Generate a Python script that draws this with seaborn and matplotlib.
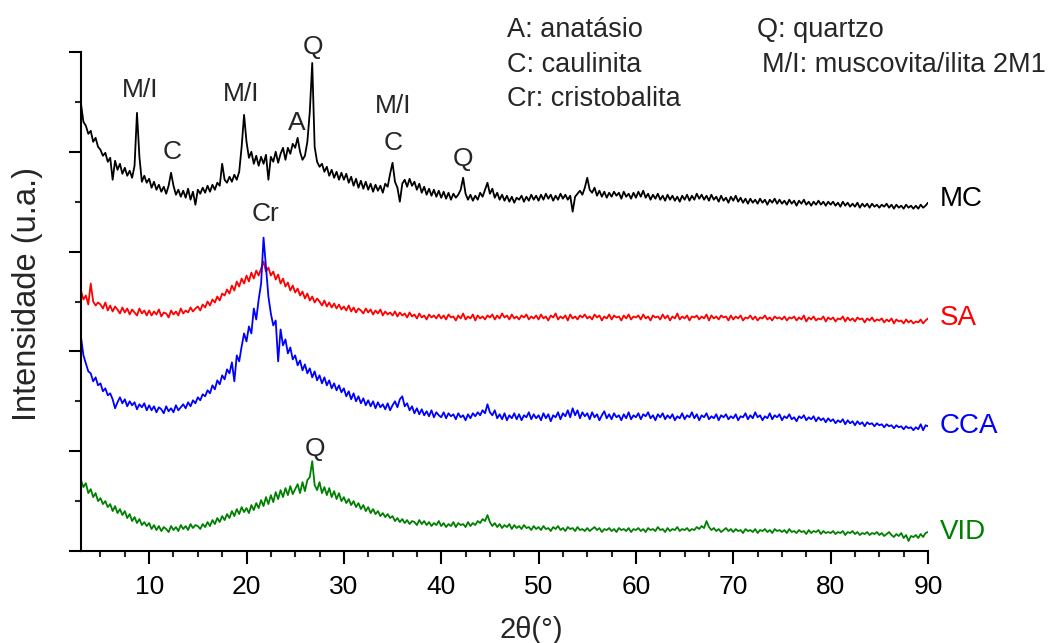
import numpy as np
import pandas as pd
import matplotlib
matplotlib.use("Agg")
import matplotlib.pyplot as plt
import seaborn as sns
from matplotlib.ticker import MultipleLocator, NullFormatter

# ---- data: intensities (u.a.) on the 2theta scan 3-90 deg, 0.25 deg step ----
mc = [448, 430, 426, 418, 421, 410, 414, 405,
      402, 396, 399, 390, 394, 372, 391, 382, 388, 378, 384, 376, 381, 374, 386, 439, 395, 370, 376, 369,
      373, 364, 370, 362, 367, 360, 365, 358, 366, 379, 366, 357, 362, 355, 361, 354, 363, 352, 360, 347,
      362, 358, 364, 359, 366, 360, 367, 362, 369, 366, 388, 372, 369, 375, 370, 377, 372, 380, 405, 437,
      410, 394, 400, 388, 396, 386, 395, 388, 397, 372, 395, 390, 400, 389, 398, 404, 392, 404, 398, 408,
      404, 414, 400, 392, 396, 410, 440, 489, 405, 390, 385, 388, 380, 385, 376, 382, 374, 380, 372, 379,
      372, 378, 369, 375, 366, 373, 364, 371, 363, 370, 362, 368, 360, 367, 361, 366, 359, 368, 365, 378,
      389, 370, 364, 350, 368, 372, 365, 373, 366, 370, 362, 368, 359, 365, 357, 363, 356, 362, 355, 361,
      354, 360, 353, 359, 352, 358, 354, 357, 362, 374, 358, 352, 357, 351, 356, 352, 359, 355, 362, 369,
      358, 363, 354, 359, 352, 357, 351, 356, 350, 355, 349, 354, 352, 356, 350, 355, 351, 357, 352, 356,
      351, 357, 352, 358, 353, 357, 351, 356, 352, 358, 353, 357, 352, 356, 340, 355, 358, 361, 357, 364,
      374, 362, 359, 364, 356, 361, 355, 360, 354, 359, 355, 360, 356, 359, 353, 360, 355, 358, 353, 359,
      354, 360, 355, 361, 354, 358, 352, 357, 353, 358, 352, 356, 351, 357, 352, 356, 351, 355, 350, 356,
      352, 357, 351, 356, 352, 358, 353, 357, 352, 356, 351, 357, 352, 355, 350, 356, 351, 354, 349, 355,
      351, 356, 350, 354, 349, 353, 348, 353, 349, 352, 348, 353, 349, 352, 347, 352, 349, 353, 348, 352,
      348, 351, 347, 352, 348, 351, 346, 351, 348, 352, 347, 350, 346, 350, 347, 351, 347, 350, 346, 350,
      347, 350, 346, 349, 345, 350, 346, 349, 345, 348, 345, 349, 344, 348, 345, 348, 344, 348, 345, 347,
      344, 347, 345, 348, 344, 347, 343, 347, 344, 346, 343, 347, 344, 346, 343, 346, 343, 347, 344, 346,
      349]

sa = [261, 252, 256, 247, 268, 250, 246, 249,
      247, 243, 249, 241, 246, 240, 245, 242, 238, 244, 239, 243, 237, 242, 239, 236, 243, 238, 241, 236,
      241, 236, 240, 237, 242, 235, 239, 238, 234, 241, 237, 240, 236, 243, 238, 241, 239, 244, 240, 243,
      245, 241, 247, 244, 250, 246, 252, 249, 255, 251, 258, 256, 262, 258, 266, 261, 270, 265, 273, 268,
      276, 270, 279, 273, 281, 276, 283, 290, 280, 284, 276, 280, 272, 277, 268, 273, 265, 269, 261, 266,
      259, 263, 256, 260, 253, 258, 251, 255, 249, 253, 250, 246, 251, 245, 249, 244, 248, 243, 247, 242,
      245, 241, 246, 240, 244, 239, 243, 241, 238, 243, 239, 242, 237, 241, 238, 242, 236, 240, 237, 239,
      236, 240, 235, 239, 236, 238, 234, 239, 235, 237, 233, 238, 234, 236, 232, 237, 234, 236, 233, 237,
      233, 236, 232, 237, 234, 235, 231, 236, 233, 238, 232, 235, 233, 237, 231, 236, 233, 235, 232, 236,
      234, 237, 232, 236, 233, 238, 234, 236, 232, 237, 233, 235, 232, 236, 234, 237, 232, 235, 233, 236,
      232, 237, 233, 235, 231, 236, 234, 238, 232, 235, 233, 236, 231, 237, 233, 235, 232, 236, 234, 237,
      233, 235, 232, 237, 234, 236, 231, 235, 233, 237, 232, 236, 234, 235, 231, 236, 233, 237, 232, 235,
      234, 236, 232, 237, 233, 235, 231, 236, 234, 235, 232, 237, 233, 236, 231, 235, 233, 238, 232, 235,
      233, 236, 231, 235, 234, 236, 232, 235, 233, 237, 231, 236, 233, 235, 232, 236, 234, 235, 231, 236,
      232, 235, 233, 236, 231, 234, 233, 236, 232, 235, 231, 234, 233, 236, 232, 234, 231, 235, 233, 234,
      232, 235, 231, 234, 233, 235, 231, 234, 232, 236, 230, 234, 232, 235, 231, 233, 232, 235, 230, 234,
      232, 234, 230, 233, 232, 235, 230, 234, 231, 233, 230, 234, 232, 233, 229, 233, 231, 234, 230, 232,
      231, 233, 229, 232, 230, 233, 228, 232, 230, 231, 228, 232, 229, 231, 228, 230, 229, 232, 228, 231,
      233]

cca = [214, 196, 188, 180, 178, 170, 174, 166,
       168, 160, 163, 156, 158, 152, 143, 149, 154, 148, 152, 145, 150, 146, 149, 142, 147, 144, 148, 141,
       146, 141, 145, 139, 144, 142, 138, 145, 140, 143, 139, 146, 141, 144, 147, 143, 149, 145, 151, 148,
       154, 151, 157, 155, 161, 158, 166, 162, 171, 167, 176, 172, 182, 178, 189, 170, 196, 190, 205, 218,
       210, 225, 218, 243, 232, 252, 268, 314, 285, 255, 238, 226, 231, 190, 222, 206, 212, 198, 204, 192,
       196, 186, 191, 181, 187, 178, 183, 174, 180, 171, 176, 168, 174, 166, 171, 163, 168, 161, 166, 159,
       163, 155, 160, 152, 158, 150, 155, 148, 153, 146, 151, 145, 150, 143, 149, 144, 147, 142, 148, 141,
       146, 150, 144, 152, 155, 145, 148, 141, 145, 138, 143, 137, 142, 136, 140, 135, 141, 134, 139, 136,
       134, 139, 133, 138, 135, 137, 132, 138, 134, 136, 131, 137, 133, 138, 135, 139, 136, 141, 138, 147,
       139, 136, 141, 133, 137, 132, 138, 131, 136, 133, 138, 132, 137, 131, 136, 134, 139, 132, 137, 133,
       136, 131, 138, 133, 137, 130, 136, 134, 139, 132, 138, 135, 141, 134, 143, 136, 141, 133, 139, 135,
       138, 132, 139, 134, 137, 131, 136, 140, 133, 137, 132, 138, 134, 136, 131, 137, 133, 139, 132, 136,
       134, 138, 132, 137, 135, 139, 133, 136, 131, 137, 134, 138, 132, 136, 133, 137, 131, 135, 133, 138,
       132, 136, 134, 139, 133, 137, 131, 136, 134, 138, 132, 135, 133, 137, 131, 136, 134, 137, 132, 135,
       133, 137, 131, 135, 134, 138, 132, 136, 133, 139, 134, 136, 131, 135, 133, 138, 132, 136, 134, 137,
       131, 135, 133, 137, 132, 134, 130, 135, 133, 136, 131, 134, 132, 135, 130, 134, 131, 133, 129, 133,
       130, 132, 128, 131, 129, 132, 127, 131, 128, 130, 126, 130, 127, 129, 125, 129, 127, 128, 125, 128,
       126, 127, 124, 127, 125, 126, 123, 126, 124, 125, 122, 125, 123, 124, 121, 124, 122, 127, 121, 126,
       125]

vid = [71, 64, 68, 58, 62, 54, 58, 50,
       53, 47, 50, 44, 47, 40, 45, 38, 42, 36, 40, 33, 37, 30, 34, 28, 32, 26, 29, 25,
       28, 22, 26, 21, 25, 20, 24, 22, 19, 25, 21, 24, 20, 26, 22, 25, 21, 27, 23, 26,
       25, 22, 27, 24, 29, 25, 31, 27, 33, 29, 35, 31, 37, 33, 40, 35, 42, 37, 44, 39,
       43, 38, 46, 41, 48, 43, 51, 45, 54, 47, 56, 49, 59, 52, 61, 54, 63, 56, 65, 57,
       62, 67, 58, 69, 60, 71, 74, 90, 66, 61, 69, 58, 64, 56, 63, 54, 60, 52, 58, 50,
       54, 48, 52, 46, 50, 44, 48, 42, 46, 40, 44, 38, 42, 37, 40, 35, 38, 34, 37, 33,
       35, 30, 33, 29, 32, 28, 31, 27, 30, 29, 26, 31, 27, 30, 26, 29, 25, 28, 26, 30,
       25, 28, 24, 27, 25, 29, 24, 28, 26, 27, 24, 29, 25, 28, 26, 30, 28, 32, 30, 36,
       29, 25, 28, 24, 27, 23, 26, 24, 27, 22, 26, 23, 25, 22, 26, 23, 24, 21, 25, 22,
       24, 21, 25, 22, 23, 20, 24, 22, 25, 21, 23, 20, 24, 22, 23, 20, 24, 21, 22, 20,
       23, 20, 22, 24, 21, 23, 19, 22, 21, 23, 20, 22, 19, 23, 21, 22, 20, 23, 19, 22,
       21, 23, 20, 22, 19, 23, 21, 22, 20, 24, 21, 22, 19, 23, 20, 22, 21, 24, 20, 22,
       21, 23, 20, 22, 21, 24, 22, 25, 23, 30, 24, 21, 23, 20, 22, 19, 21, 23, 20, 22,
       19, 22, 20, 21, 18, 22, 20, 21, 19, 22, 18, 21, 20, 22, 19, 21, 18, 22, 20, 21,
       19, 21, 18, 22, 19, 20, 18, 21, 19, 20, 17, 21, 18, 20, 19, 21, 17, 20, 18, 19,
       18, 20, 17, 19, 18, 20, 16, 19, 18, 20, 17, 19, 16, 18, 17, 19, 16, 18, 17, 19,
       16, 18, 15, 17, 19, 16, 14, 17, 15, 18, 13, 16, 10, 15, 14, 16, 13, 17, 14, 18,
       19]

sample_names = ["MC", "SA", "CCA", "VID"]
sample_colors = ["#000000", "#ff0000", "#0000ff", "#008000"]
scan_start, scan_end = 3.0, 90.0

peak_labels = ["M/I", "C", "M/I", "A", "Q", "M/I", "C", "Q", "Cr", "Q"]
phase_legend = [["A: anatásio", "C: caulinita", "Cr: cristobalita"],
                ["Q: quartzo", "M/I: muscovita/ilita 2M1"]]

# ---- build long table ----
frames = []
for name, vals in zip(sample_names, [mc, sa, cca, vid]):
    tt = np.linspace(scan_start, scan_end, len(vals))
    frames.append(pd.DataFrame({"2theta": tt, "I": vals, "amostra": name}))
df = pd.concat(frames, ignore_index=True)

sns.set_style("ticks")
plt.rcParams["font.family"] = ["Liberation Sans", "DejaVu Sans"]

fig = plt.figure(figsize=(10.59, 6.43), dpi=100)
ax = fig.add_axes([81 / 1059, 1 - 551 / 643, 847 / 1059, 499 / 643])

sns.lineplot(data=df, x="2theta", y="I", hue="amostra", hue_order=sample_names,
             palette=sample_colors, legend=False, lw=1.3, ax=ax, sort=False,
             estimator=None)

ax.set_xlim(3, 90)
ax.set_ylim(0, 500)
ax.xaxis.set_major_locator(MultipleLocator(10))
ax.xaxis.set_minor_locator(MultipleLocator(2.5))
ax.yaxis.set_major_locator(MultipleLocator(100))
ax.yaxis.set_minor_locator(MultipleLocator(50))
ax.yaxis.set_major_formatter(NullFormatter())
ax.tick_params(axis="both", which="major", length=9, width=1.5, direction="out",
               labelsize=19, colors="black", pad=8)
ax.tick_params(axis="both", which="minor", length=4.5, width=1.5, direction="out")
for s in ["top", "right"]:
    ax.spines[s].set_visible(False)
for s in ["left", "bottom"]:
    ax.spines[s].set_linewidth(1.5)
    ax.spines[s].set_color("black")

ax.set_xlabel("2θ(°)", fontsize=21)
ax.set_ylabel("Intensidade (u.a.)", fontsize=23.5)
ax.xaxis.set_label_coords(0.531, -0.158)
ax.yaxis.set_label_coords(-0.0626, 0.515)
ax.xaxis.label.set_va("center")
ax.yaxis.label.set_va("center")

# peak annotations
peak_pos = [(9.06, 462), (12.35, 400), (19.43, 458), (25.2, 429), (26.8, 505),
            (35.05, 446), (35.05, 409), (42.24, 393), (21.9, 338), (27.0, 102)]
for lab, (px, py) in zip(peak_labels, peak_pos):
    ax.text(px, py, lab, ha="center", va="center", fontsize=19, clip_on=False)

# sample labels at right
label_y = [353, 233, 125, 19]
for name, col, yy in zip(sample_names, sample_colors, label_y):
    ax.text(91.2, yy, name, color=col, ha="left", va="center", fontsize=20, clip_on=False)

# phase legend text
row_y = [1 - 30 / 643, 1 - 65 / 643, 1 - 99 / 643]
for t, yy in zip(phase_legend[0], row_y):
    fig.text(507 / 1059, yy, t, ha="left", va="center", fontsize=19.5)
fig.text(757 / 1059, row_y[0], phase_legend[1][0], ha="left", va="center", fontsize=19.5)
fig.text(762 / 1059, row_y[1], phase_legend[1][1], ha="left", va="center", fontsize=19.5)

fig.savefig("out.png", dpi=100)
